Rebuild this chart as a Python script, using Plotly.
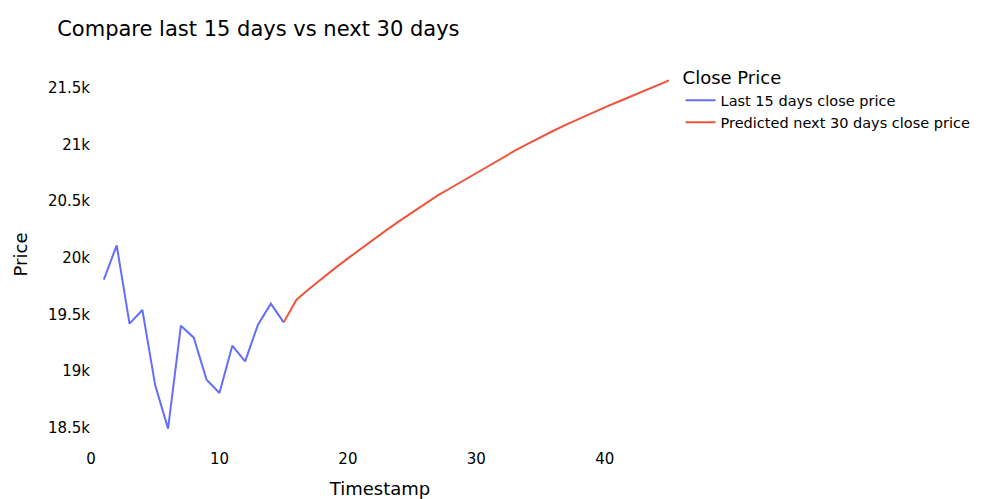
import plotly.graph_objects as go

last_days = list(range(1, 16))
last_close = [19806, 20109, 19418, 19538, 18873, 18491, 19400, 19294, 18923, 18806,
              19223, 19085, 19409, 19594, 19429]

pred_days = list(range(15, 46))
pred_close = [19429, 19629, 19725, 19818, 19908, 19994, 20079, 20162, 20243, 20322,
              20400, 20476, 20549, 20615, 20682, 20748, 20815, 20880, 20944, 21005,
              21064, 21120, 21174, 21226, 21277, 21326, 21374, 21421, 21468, 21516,
              21565]

fig = go.Figure()
fig.add_trace(go.Scatter(x=last_days, y=last_close, mode="lines",
                         name="Last 15 days close price",
                         line=dict(color="#636efa", width=2)))
fig.add_trace(go.Scatter(x=pred_days, y=pred_close, mode="lines",
                         name="Predicted next 30 days close price",
                         line=dict(color="#EF553B", width=2)))

fig.update_layout(
    template="plotly_white",
    width=984, height=499,
    title=dict(text="Compare last 15 days vs next 30 days", font=dict(size=21),
               yref="container", y=1 - 21 / 499, yanchor="middle"),
    font=dict(family="Verdana, DejaVu Sans, sans-serif", size=15, color="black"),
    legend=dict(title=dict(text="Close Price", font=dict(size=18)),
                font=dict(size=14.5)),
    margin=dict(l=83, r=323, t=53, b=59, autoexpand=False),
    plot_bgcolor="white", paper_bgcolor="white",
)
fig.update_xaxes(title_text="Timestamp", title_font_size=18, showgrid=False,
                 zeroline=False, range=[0, 45], automargin=False)
fig.update_yaxes(title_text="Price", title_font_size=18, showgrid=False,
                 zeroline=False, automargin=False)

fig.write_html("out.html")
